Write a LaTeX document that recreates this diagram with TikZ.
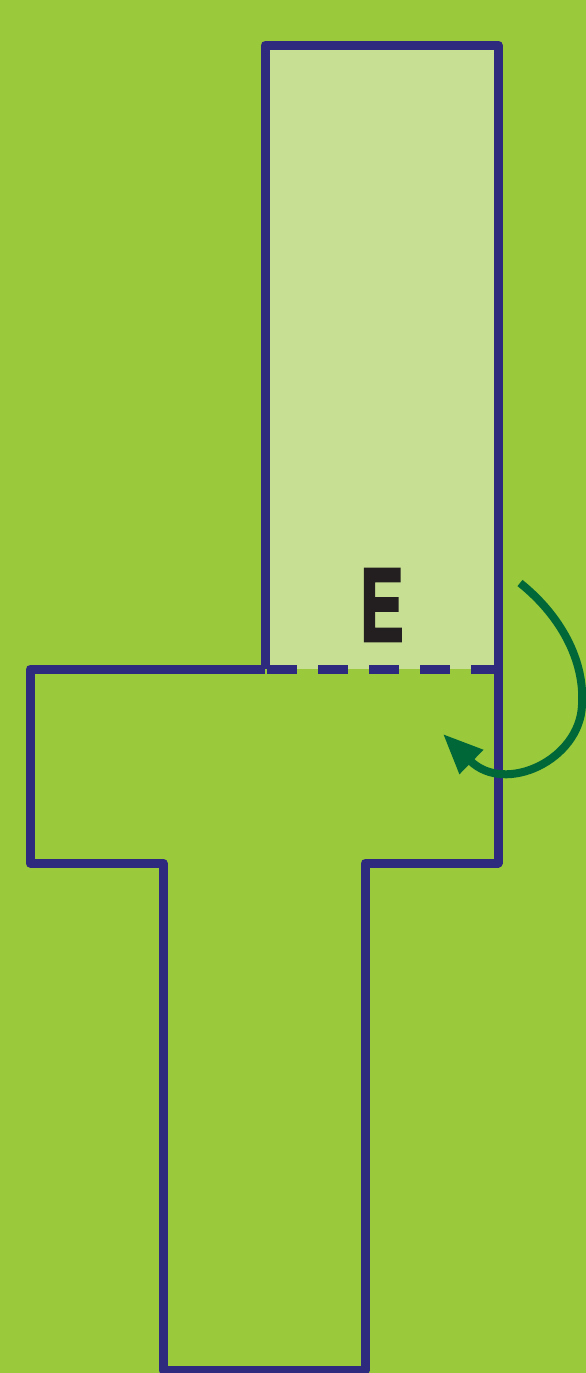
\documentclass[tikz,border=0pt]{standalone}
\usepackage{fontspec}
\setmainfont{Liberation Sans}
\newfontfamily\efont[FakeBold=3]{Liberation Sans Bold}
\usetikzlibrary{arrows.meta}
\definecolor{bg}{HTML}{9ACA3C}
\definecolor{lightfill}{HTML}{C6DF92}
\definecolor{navy}{HTML}{2E2A7E}
\definecolor{arrowgreen}{HTML}{006838}
\definecolor{ink}{HTML}{231F20}
\tikzset{
  outline/.style={draw=navy, line width=9pt, line join=round, line cap=butt},
  foldline/.style={draw=navy, line width=9pt, dash pattern=on 30pt off 21pt},
  turnarrow/.style={draw=arrowgreen, line width=8pt, -{Triangle[length=40pt,width=32pt]}},
}
\begin{document}
\begin{tikzpicture}[x=1pt,y=-1pt]
\fill[bg] (0,0) rectangle (586,1373);
\useasboundingbox (0,0) rectangle (586,1373);
% light flap
\fill[lightfill] (265,45) rectangle (498,669);
% T shape
\draw[outline] (265,669) -- (30,669) -- (30,863) -- (163,863) -- (163,1370) -- (365,1370) -- (365,863) -- (498,863) -- (498,669);
% flap outline
\draw[outline] (265,669) -- (265,45) -- (498,45) -- (498,669);
% fold line
\draw[foldline] (267,669) -- (498,669);
% label
\node[text=ink, inner sep=0pt] (E) at (382,605) {\scalebox{0.62}[1]{\fontsize{104}{104}\selectfont\efont E}};
% turning arrow
\coordinate (a0) at (520,583);
\coordinate (a1) at (582,705);
\coordinate (a2) at (443,734);
\draw[turnarrow] (a0) .. controls (560,615) and (585,660) .. (a1) .. controls (580,760) and (505,795) .. (a2);
\end{tikzpicture}
\end{document}
